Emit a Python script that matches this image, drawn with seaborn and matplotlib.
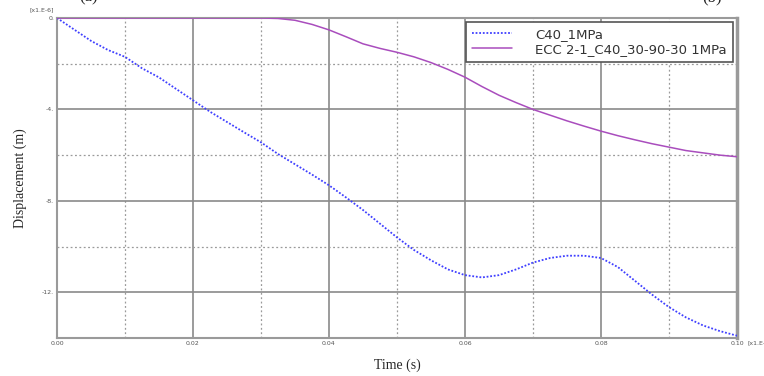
import numpy as np
import pandas as pd
import matplotlib
matplotlib.use("Agg")
import matplotlib.pyplot as plt
import seaborn as sns
from matplotlib.ticker import FixedLocator

# ---- data (displacement in 1e-6 m, time in s) ----
time = [0.0, 0.0025, 0.005, 0.0075, 0.01, 0.0125, 0.015, 0.0175, 0.02, 0.0225,
        0.025, 0.0275, 0.03, 0.0325, 0.035, 0.0375, 0.04, 0.0425, 0.045, 0.0475,
        0.05, 0.0525, 0.055, 0.0575, 0.06, 0.0625, 0.065, 0.0675, 0.07, 0.0725,
        0.075, 0.0775, 0.08, 0.0825, 0.085, 0.0875, 0.09, 0.0925, 0.095, 0.0975, 0.1]
c40_1mpa = [0.0, -0.5, -1.0, -1.4, -1.7, -2.2, -2.6, -3.1, -3.6, -4.1,
            -4.55, -5.0, -5.44, -5.95, -6.4, -6.85, -7.32, -7.85, -8.4, -9.0,
            -9.6, -10.15, -10.6, -11.0, -11.25, -11.35, -11.25, -11.0, -10.7, -10.5,
            -10.4, -10.4, -10.5, -10.9, -11.5, -12.1, -12.65, -13.1, -13.45, -13.7, -13.9]
ecc_1mpa = [0.0, 0.0, 0.0, 0.0, 0.0, 0.0, 0.0, 0.0, 0.0, 0.0,
            0.0, 0.0, 0.0, -0.02, -0.1, -0.28, -0.52, -0.82, -1.13, -1.33,
            -1.5, -1.7, -1.95, -2.25, -2.59, -3.0, -3.38, -3.7, -4.0, -4.25,
            -4.5, -4.73, -4.95, -5.15, -5.33, -5.5, -5.65, -5.8, -5.9, -6.0, -6.07]
series_names = ["C40_1MPa", "ECC 2-1_C40_30-90-30 1MPa"]
x_ticks = [0.0, 0.02, 0.04, 0.06, 0.08, 0.10]
x_tick_labels = ["0.00", "0.02", "0.04", "0.06", "0.08", "0.10"]
y_ticks = [0, -4, -8, -12]
y_tick_labels = ["0.", "-4.", "-8.", "-12."]

sns.set_style("white")

fig = plt.figure(figsize=(7.64, 3.76), dpi=100)
ax = fig.add_axes([57/764, 1-338/376, (737-57)/764, (338-18)/376])

df = pd.DataFrame({"t": time, "a": c40_1mpa, "b": ecc_1mpa})

grid_solid = dict(color="#8a8a8a", lw=1.2, zorder=0)
grid_dot = dict(color="#9a9a9a", lw=0.9, ls=(0, (1.5, 2)), zorder=0)
for xv in [0.02, 0.04, 0.06, 0.08]:
    ax.axvline(xv, **grid_solid)
for xv in [0.01, 0.03, 0.05, 0.07, 0.09]:
    ax.axvline(xv, **grid_dot)
for yv in [-4, -8, -12]:
    ax.axhline(yv, **grid_solid)
for yv in [-2, -6, -10]:
    ax.axhline(yv, **grid_dot)

sns.lineplot(data=df, x="t", y="a", ax=ax, color="#3f3fff", lw=1.3,
             linestyle=(0, (1.0, 1.0)), label=series_names[0], zorder=3)
sns.lineplot(data=df, x="t", y="b", ax=ax, color="#a94dbd", lw=1.1,
             label=series_names[1], zorder=4)

ax.set_xlim(0, 0.10)
ax.set_ylim(-14, 0)
ax.xaxis.set_major_locator(FixedLocator(x_ticks))
ax.set_xticklabels(x_tick_labels)
ax.yaxis.set_major_locator(FixedLocator(y_ticks))
ax.set_yticklabels(y_tick_labels)
ax.tick_params(axis="both", length=0, labelsize=4.5, labelcolor="#555555", pad=2)

for s in ax.spines.values():
    s.set_color("#9a9a9a")
    s.set_linewidth(1.5)
ax.spines["right"].set_linewidth(2.5)

ax.set_xlabel("Time (s)", family="Liberation Serif", fontsize=10, labelpad=9.5)
ax.set_ylabel("Displacement (m)", family="Liberation Serif", fontsize=10, labelpad=11)

fig.text(30/764, 1-10/376, "[x1.E-6]", fontsize=4.5, color="#555555", va="center", ha="left")
fig.text(748/764, 1-343/376, "[x1.E-6]", fontsize=4.5, color="#555555", va="center", ha="left")

fig.text(89/764, 1-5/376, "(a)", family="Liberation Serif", fontsize=12, va="bottom", ha="center")
fig.text(712/764, 1-5/376, "(b)", family="Liberation Serif", fontsize=12, va="bottom", ha="center")

leg = ax.legend(loc="upper right", frameon=True, fancybox=False,
                borderaxespad=0.3, handlelength=3.0, handletextpad=1.8,
                labelspacing=0.15, borderpad=0.45, prop={"family": "DejaVu Sans", "size": 9.5})
leg.get_frame().set_edgecolor("#555555")
leg.get_frame().set_linewidth(1.2)
leg.get_frame().set_facecolor("white")
leg.get_frame().set_alpha(1)
for t in leg.get_texts():
    t.set_color("#333333")

fig.savefig("out.png", dpi=100)
